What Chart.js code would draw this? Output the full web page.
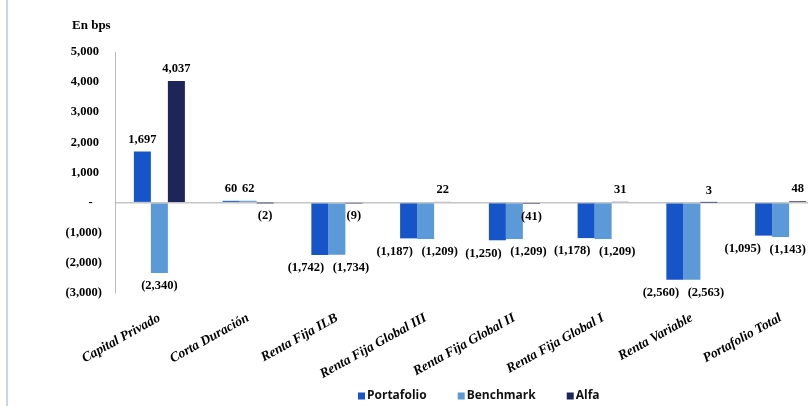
<!DOCTYPE html>
<html>
<head>
<meta charset="utf-8">
<script src="https://cdn.jsdelivr.net/npm/chart.js@4.4.0/dist/chart.umd.min.js"></script>
<style>
html,body{margin:0;padding:0;background:#fff;overflow:hidden;width:808px;height:406px;}
#wrap{position:absolute;left:0;top:0;width:826px;height:406px;}
</style>
</head>
<body>
<div id="wrap"><canvas id="c" width="826" height="406"></canvas></div>
<script>
const categories = ['Capital Privado','Corta Duración','Renta Fija ILB','Renta Fija Global III','Renta Fija Global II','Renta Fija Global I','Renta Variable','Portafolio Total'];
const portafolio = [1697, 60, -1742, -1187, -1250, -1178, -2560, -1095];
const benchmark = [-2340, 62, -1734, -1209, -1209, -1209, -2563, -1143];
const alfa = [4037, -2, -9, 22, -41, 31, 3, 48];
const seriesNames = ['Portafolio','Benchmark','Alfa'];
const seriesColors = ['#1655c8','#5b9ad6','#1e2558'];
const yTickValues = [5000,4000,3000,2000,1000,0,-1000,-2000,-3000];
const yTickLabels = ['5,000\u2005','4,000\u2005','3,000\u2005','2,000\u2005','1,000\u2005','-\u2002\u2005','(1,000)','(2,000)','(3,000)'];
const unitTitle = 'En bps';

function fmt(v){
  const s = Math.abs(v).toLocaleString('en-US');
  return v < 0 ? '(' + s + ')' : s;
}

const decor = {
  id:'decor',
  beforeDraw(chart){
    const ctx = chart.ctx;
    ctx.save();
    ctx.fillStyle = '#c8d4ec';
    ctx.fillRect(6,0,2,chart.height);
    ctx.fillStyle = '#000';
    ctx.font = 'bold 13px "Liberation Serif"';
    ctx.textAlign = 'left';
    ctx.textBaseline = 'middle';
    ctx.fillText(unitTitle, 72, 26);
    ctx.restore();
  },
  afterDraw(chart){
    const ctx = chart.ctx;
    ctx.save();
    ctx.font = 'bold 12px "Open Sans"';
    ctx.textBaseline = 'middle';
    ctx.textAlign = 'left';
    let x = 358;
    const y = 396;
    chart.data.datasets.forEach((ds)=>{
      ctx.fillStyle = ds.backgroundColor;
      ctx.fillRect(x, y-3.5, 7, 7);
      ctx.fillStyle = '#111';
      ctx.fillText(ds.label, x+9, y);
      x += 9 + ctx.measureText(ds.label).width + 31;
    });
    ctx.restore();
  },
  afterDatasetsDraw(chart){
    const ctx = chart.ctx;
    ctx.save();
    ctx.font = 'bold 12.5px "Liberation Serif"';
    ctx.fillStyle = '#000';
    ctx.textAlign = 'center';
    ctx.textBaseline = 'middle';
    const ds = chart.data.datasets;
    const n = categories.length;
    for (let i = 0; i < n; i++) {
      const pairNeg = ds[0].data[i] < 0 && ds[1].data[i] < 0;
      let pos = ds.map((d, di) => {
        const el = chart.getDatasetMeta(di).data[i];
        const v = d.data[i];
        const txt = fmt(v);
        let x = el.x;
        const y = v >= 0 ? el.y - 12 : el.y + 13;
        if (pairNeg && di < 2) x += (di === 0 ? -14 : 14);
        return {txt, x, y, hw: ctx.measureText(txt).width / 2};
      });
      // keep labels inside the visible picture; push the pair together
      let over = 0;
      pos.forEach((p, di) => { if (di < 2 && pairNeg) over = Math.max(over, p.x + p.hw - 806); });
      if (over > 0) { pos[0].x -= over; pos[1].x -= over; }
      pos.forEach(p => { p.x = Math.min(p.x, 806 - p.hw); ctx.fillText(p.txt, p.x, p.y); });
    }
    ctx.restore();
  }
};

new Chart(document.getElementById('c'), {
  type:'bar',
  data:{
    labels: categories,
    datasets:[
      {label:seriesNames[0], data:portafolio, backgroundColor:seriesColors[0]},
      {label:seriesNames[1], data:benchmark, backgroundColor:seriesColors[1]},
      {label:seriesNames[2], data:alfa, backgroundColor:seriesColors[2]}
    ]
  },
  options:{
    responsive:false,
    animation:false,
    layout:{padding:{left:0,right:1,top:52,bottom:0}},
    datasets:{bar:{categoryPercentage:0.575, barPercentage:1.0}},
    plugins:{legend:{display:false}, tooltip:{enabled:false}, title:{display:false}},
    scales:{
      x:{
        grid:{display:false},
        border:{display:false},
        ticks:{
          autoSkip:false, minRotation:29, maxRotation:29, padding:9,
          color:'#000',
          font:{family:'Liberation Serif', size:13.5, weight:'bold', style:'italic'}
        },
        afterFit(s){ s.height = 113; }
      },
      y:{
        min:-3000, max:5000,
        afterBuildTicks(s){ s.ticks = yTickValues.map(v=>({value:v})); },
        grid:{
          drawTicks:false,
          color(c){ return c.tick && c.tick.value === 0 ? '#c4c4c4' : 'rgba(0,0,0,0)'; },
          lineWidth:1.5
        },
        border:{display:true, color:'#b8b8b8', width:1},
        ticks:{
          padding:13, color:'#000',
          font:{family:'Liberation Serif', size:12.5, weight:'bold'},
          callback(v){ const i = yTickValues.indexOf(v); return i >= 0 ? yTickLabels[i] : ''; }
        },
        afterFit(s){ s.width = 115; }
      }
    }
  },
  plugins:[decor]
});
</script>
</body>
</html>
